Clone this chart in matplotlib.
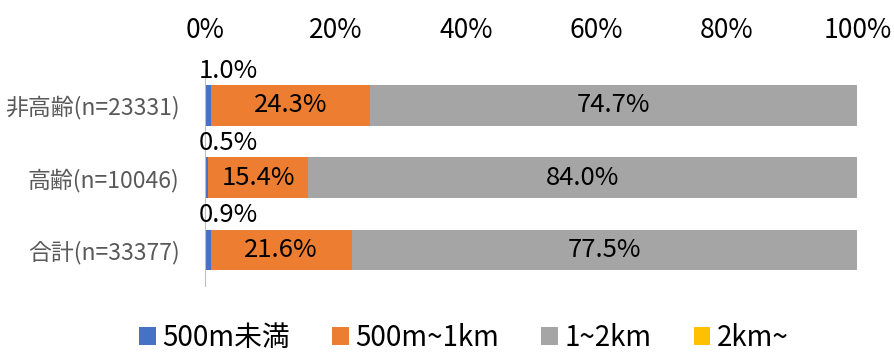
import matplotlib.pyplot as plt
import numpy as np

plt.rcParams['font.family'] = ['Noto Sans CJK JP', 'DejaVu Sans']

# 距離帯ごとの構成比 (%)
groups = ['非高齢(n=23331)', '高齢(n=10046)', '合計(n=33377)']
under500 = [1.0, 0.5, 0.9]
m500_1k = [24.3, 15.4, 21.6]
km1_2 = [74.7, 84.0, 77.5]
over2k = [0.0, 0.0, 0.0]
series = [('500m未満', under500, '#4472C4'),
          ('500m~1km', m500_1k, '#ED7D31'),
          ('1~2km', km1_2, '#A5A5A5'),
          ('2km~', over2k, '#FFC000')]

fig = plt.figure(figsize=(8.94, 3.54), dpi=100)
ax = fig.add_axes([0.229, 0.192, 0.73, 0.612])

y = np.arange(len(groups))
left = np.zeros(len(groups))
for name, vals, color in series:
    vals = np.array(vals)
    ax.barh(y, vals, left=left, height=0.56, color=color, label=name)
    for i, v in enumerate(vals):
        if v == 0:
            continue
        if v < 5:
            # 細い区間はバーの上に表示
            ax.annotate(f'{v:.1f}%', (left[i], i - 0.28), xytext=(-4, 1),
                        textcoords='offset points', ha='left', va='bottom',
                        fontsize=18.5, color='black')
        else:
            ax.text(left[i] + v / 2, i, f'{v:.1f}%', ha='center', va='center',
                    fontsize=18.5, color='black')
    left += vals

ax.set_xlim(0, 100)
ax.set_ylim(2.5, -0.5)
ax.set_yticks(y)
ax.set_yticklabels(groups, fontsize=16.5, color='#595959')
ax.set_xticks(np.arange(0, 101, 20))
ax.set_xticklabels([f'{t}%' for t in range(0, 101, 20)], fontsize=19)
ax.xaxis.tick_top()
ax.tick_params(axis='x', length=0, pad=18)
ax.tick_params(axis='y', length=0, pad=18)
for s in ['top', 'right', 'bottom']:
    ax.spines[s].set_visible(False)
ax.spines['left'].set_color('#BFBFBF')

fig.legend(*ax.get_legend_handles_labels(), loc='center',
           bbox_to_anchor=(0.519, 0.045), ncol=4, frameon=False,
           fontsize=20, handlelength=0.6, handleheight=0.6, handletextpad=0.25,
           columnspacing=1.5)

fig.savefig('out.png', dpi=100)
